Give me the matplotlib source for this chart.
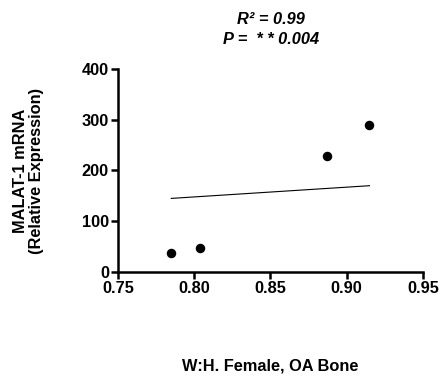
import matplotlib
matplotlib.use("Agg")
import matplotlib.pyplot as plt

plt.rcParams['font.family'] = ['Liberation Sans', 'DejaVu Sans']
plt.rcParams['font.weight'] = 'bold'

# Waist:hip ratio vs MALAT-1 expression
whr = [0.785, 0.804, 0.887, 0.915]
malat1 = [38, 47, 229, 289]

# Regression line endpoints
fit_x = [0.785, 0.915]
fit_y = [145, 170]

x_ticks = [0.75, 0.80, 0.85, 0.90, 0.95]
y_ticks = [0, 100, 200, 300, 400]

fs = 11.8

fig = plt.figure(figsize=(4.4, 3.76), dpi=100)
ax = fig.add_axes([0.268, 0.2766, 0.693, 0.54])

ax.scatter(whr, malat1, s=34, color='black', zorder=3)
ax.plot(fit_x, fit_y, color='black', lw=0.8)

ax.set_xlim(0.75, 0.95)
ax.set_ylim(0, 400)
ax.set_xticks(x_ticks)
ax.set_xticklabels([f"{t:.2f}" for t in x_ticks])
ax.set_yticks(y_ticks)
ax.tick_params(axis='both', direction='out', width=1.8, length=5, labelsize=fs, pad=1.5)

for side in ['top', 'right']:
    ax.spines[side].set_visible(False)
for side in ['left', 'bottom']:
    ax.spines[side].set_linewidth(1.8)

ax.set_ylabel("MALAT-1 mRNA\n(Relative Expression)", fontsize=fs, fontweight='bold',
              linespacing=1.05)
ax.yaxis.set_label_coords(-0.243, 0.5)

fig.text(0.614, 0.027, "W:H. Female, OA Bone", ha='center', va='center', fontsize=fs, fontweight='bold')
fig.text(0.616, 0.947, "R\u00b2 = 0.99", ha='center', va='center',
         fontsize=fs, fontweight='bold', style='italic')
fig.text(0.616, 0.894, "P =  * * 0.004", ha='center', va='center',
         fontsize=fs, fontweight='bold', style='italic')

fig.savefig("out.png", dpi=100)
